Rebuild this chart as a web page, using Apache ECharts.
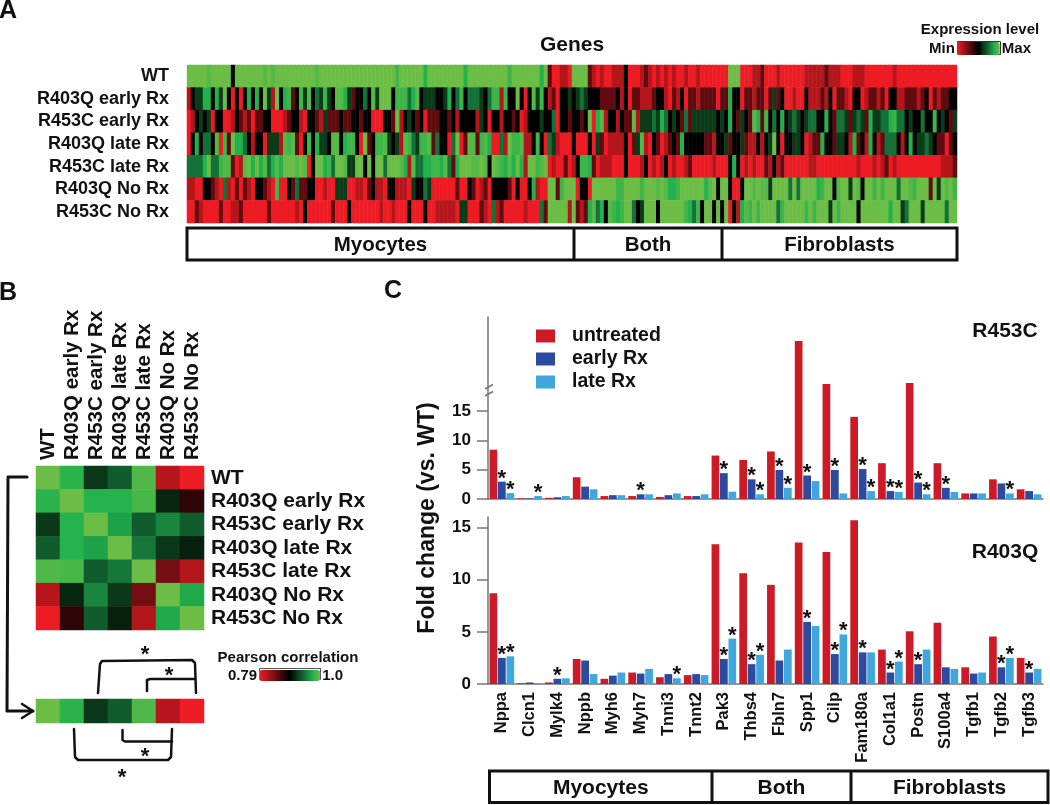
<!DOCTYPE html>
<html><head><meta charset="utf-8">
<script src="https://cdn.jsdelivr.net/npm/echarts@6/dist/echarts.min.js"></script>
<style>html,body{margin:0;padding:0;background:#fff}#c{width:1050px;height:805px}</style>
</head><body><div id="c"></div>
<script>
// ---------- Panel A: expression level per gene, one digit per gene, 0 = min, 9 = max
const conditions = ['WT','R403Q early Rx','R453C early Rx','R403Q late Rx','R453C late Rx','R403Q No Rx','R453C No Rx'];
const exprWT = '999998999993 999999989899 999999998999 999999999999 999979999996 999999999699 999999997999 999969200110 999921010011 130001210101 010010010000 000999000112 000100000011 111211100011 100000001000 000000000000';
const exprR403QEarly = '134466364930 303636394193 672374835474 388642335384 999377756834 443346357355 543577173393 038473120334 345433322223 130221112331 021302212222 022633022122 024230010031 112130221033 012212033112 221230212233';
const exprR453CEarly = '013434033001 321202233000 123310332142 223223323300 033291343230 222332313333 143033133230 133343350332 332390681331 322814445465 343252444444 343632432862 735363454345 533632554245 426445567553 433533734324';
const exprR403QLate = '036355380729 665313304441 878203736443 883677309237 784341875477 825330590288 278600519778 113730541000 300030420111 130248103201 232633333221 334233421131 349303344301 226332443162 316312555313 634454322023';
const exprR453CLate = '555569557882 018969685686 999898039967 599844993939 959998618556 677685269998 898398768696 199789010020 137762011100 030001301013 010012000001 000363010100 213120000001 100000000001 000101201000 000000001112';
const exprR403QNone = '110033210510 202103321070 032522330010 044400110231 103311104335 400000020032 012033332030 036100992799 903309999997 799997999898 667999999689 399300399898 849999595999 967993899498 399797999599 879992949897';
const exprR453CNone = '002100002001 120000002000 000103000000 200030000000 100100030003 001111104400 021051200000 100052999991 921268563876 799534999399 999976573993 939031687979 999579999979 799949799993 999999969945 999499999599';
const exprRows = [exprWT, exprR403QEarly, exprR453CEarly, exprR403QLate, exprR453CLate, exprR403QNone, exprR453CNone];
const exprLevelValues = [0, 0.125, 0.3, 0.5, 0.625, 0.75, 0.875, 0.92, 0.96, 1];
const scaleColors = ['#ed1c24','#b5161b','#770e12','#3b070a','#000000','#0b3b19','#147238','#22b14c','#6cbd45'];

// ---------- Panel B: Pearson correlation
const corrWT =        [1.0, .977, .92, .937, .99, .816, .79];
const corrR403QEarly =[.977, 1.0, .975, .975, .987, .912, .874];
const corrR453CEarly =[.92, .975, 1.0, .968, .937, .956, .937];
const corrR403QLate = [.937, .975, .968, 1.0, .95, .92, .91];
const corrR453CLate = [.99, .987, .937, .95, 1.0, .844, .817];
const corrR403QNone = [.816, .912, .956, .92, .844, 1.0, .97];
const corrR453CNone = [.79, .874, .937, .91, .817, .97, 1.0];
const corrRows = [corrWT, corrR403QEarly, corrR453CEarly, corrR403QLate, corrR453CLate, corrR403QNone, corrR453CNone];

// ---------- Panel C: fold change
const genes = ['Nppa','Clcn1','Mylk4','Nppb','Myh6','Myh7','Tnni3','Tnnt2','Pak3','Thbs4','Fbln7','Spp1','Cilp','Fam180a','Col1a1','Postn','S100a4','Tgfb1','Tgfb2','Tgfb3'];
const r453Untreated = [8.4,.1,.2,3.7,.5,.5,.35,.5,7.4,6.65,8.1,38.9,31.6,14,6.1,31.75,6.1,.95,3.35,1.65];
const r453Early =     [2.95,.1,.3,2.1,.65,.8,.65,.5,4.4,3.35,4.95,4,4.95,5.1,1.35,2.8,1.9,.95,2.65,1.35];
const r453Late =      [1,.5,.5,1.65,.65,.8,.95,.8,1.25,.8,1.9,3.05,.95,1.35,1.2,.8,1.2,.95,.95,.8];
const r453EarlySig =  [1,0,0,0,0,1,0,0,1,1,1,1,1,1,1,1,1,0,0,0];
const r453LateSig =   [1,1,0,0,0,0,0,0,0,1,1,0,0,1,1,1,0,0,1,0];
const r403Untreated = [8.7,.07,.15,2.4,.5,1.1,.65,.85,13.4,10.6,9.5,13.55,12.65,15.7,3.3,5.05,5.87,1.6,4.55,2.5];
const r403Early =     [2.5,.15,.5,2.25,.8,1,.95,.95,2.4,1.9,2.25,5.95,2.87,3.03,1.1,1.9,1.6,1,1.6,1.1];
const r403Late =      [2.65,.1,.55,.95,1.1,1.45,.55,.85,4.35,2.8,3.3,5.55,4.75,3.03,2.15,3.3,1.45,1.1,2.5,1.45];
const r403EarlySig =  [1,0,1,0,0,0,0,0,1,1,0,1,1,1,1,1,0,0,1,1];
const r403LateSig =   [1,0,0,0,0,0,1,0,1,1,0,0,1,0,1,0,0,0,1,0];
const yTicks = [0,5,10,15];
const treatments = ['untreated','early Rx','late Rx'];
const treatmentColors = ['#cc1b27','#2c4a9f','#3fa7de'];

// ---------- build
const FF = '"Liberation Sans", Arial, sans-serif';
const AX = '#777';
const exprCols = exprWT.replace(/ /g,'').length;
const exprData = [];
exprRows.forEach((s, r) => s.replace(/ /g,'').split('').forEach((d, c) => exprData.push([c, r, exprLevelValues[+d]])));
const corrData = [];
corrRows.forEach((row, r) => row.forEach((v, c) => corrData.push([c, r, v])));
const stripData = corrWT.map((v, c) => [c, 0, v]);

const hiddenAxis = {axisLine:{show:false},axisTick:{show:false},axisLabel:{show:false},splitLine:{show:false}};
function text(x, y, t, size, o) {
  return Object.assign({type:'text', x, y, silent:true,
    style:Object.assign({text:t, font:'bold '+size+'px '+FF, fill:'#111', align:'center', verticalAlign:'middle'}, o||{})});
}
function pl(points, w) {
  return {type:'polyline', silent:true, shape:{points}, style:{stroke:'#111', lineWidth:w||2.5, fill:'none', lineJoin:'round', lineCap:'round'}};
}
function boxes(x0, y0, y1, xs, labels, size) {
  const out = [{type:'rect', silent:true, shape:{x:x0, y:y0, width:xs[xs.length-1]-x0, height:y1-y0}, style:{fill:'#fff', stroke:'#111', lineWidth:3}}];
  xs.slice(0,-1).forEach(x => out.push({type:'line', silent:true, shape:{x1:x,y1:y0,x2:x,y2:y1}, style:{stroke:'#111', lineWidth:3}}));
  let prev = x0;
  xs.forEach((x,i) => { out.push(text((prev+x)/2, (y0+y1)/2+1, labels[i], size)); prev = x; });
  return out;
}
function barSeries(idx, name, vals, sig, color) {
  return {type:'bar', name, xAxisIndex:idx, yAxisIndex:idx, barWidth:7.7, barGap:'10%', itemStyle:{color},
    label:{show:false, position:'top', distance:-8, formatter:'*', fontFamily:FF, fontWeight:'bold', fontSize:22, color:'#111'},
    data: vals.map((v,i) => ({value:v, label:{show:!!(sig && sig[i])}}))};
}

const option = {
  animation:false, backgroundColor:'#fff', textStyle:{fontFamily:FF},
  grid:[
    {left:187, top:65, width:770, height:158},
    {left:36, top:466, width:168, height:164},
    {left:36, top:699, width:168, height:24},
    {left:488, top:317, width:555, height:182},
    {left:488, top:517, width:555, height:167}
  ],
  xAxis:[
    Object.assign({gridIndex:0, type:'category', position:'top', data:Array.from({length:exprCols},(_,i)=>i), name:'Genes', nameLocation:'middle', nameGap:9, nameTextStyle:{fontFamily:FF, fontWeight:'bold', fontSize:21, color:'#111'}}, hiddenAxis),
    {gridIndex:1, type:'category', position:'top', data:conditions, axisLine:{show:false}, axisTick:{show:false}, axisLabel:{interval:0, rotate:-90, margin:6, fontFamily:FF, fontWeight:'bold', fontSize:20.5, color:'#111'}},
    Object.assign({gridIndex:2, type:'category', data:conditions}, hiddenAxis),
    {gridIndex:3, type:'category', data:genes, axisLine:{lineStyle:{color:AX, width:1.5}}, axisTick:{length:2, lineStyle:{color:AX}}, axisLabel:{show:false}},
    {gridIndex:4, type:'category', data:genes, axisLine:{lineStyle:{color:AX, width:1.5}}, axisTick:{length:13, lineStyle:{color:AX, width:1.5}}, axisLabel:{interval:0, rotate:90, margin:8, fontFamily:FF, fontWeight:'bold', fontSize:16.5, color:'#111'}}
  ],
  yAxis:[
    {gridIndex:0, type:'category', inverse:true, data:conditions, axisLine:{show:false}, axisTick:{show:false}, axisLabel:{interval:0, margin:18, fontFamily:FF, fontWeight:'bold', fontSize:18, color:'#111'}},
    {gridIndex:1, type:'category', inverse:true, position:'right', data:conditions, axisLine:{show:false}, axisTick:{show:false}, axisLabel:{interval:0, margin:7, fontFamily:FF, fontWeight:'bold', fontSize:21, color:'#111'}},
    Object.assign({gridIndex:2, type:'category', data:['WT']}, hiddenAxis),
    {gridIndex:3, type:'value', min:0, max:43, breaks:[{start:18, end:30, gap:0}], breakArea:{show:false}, splitLine:{show:false},
      axisLine:{show:true, lineStyle:{color:AX, width:1.5}}, axisTick:{show:true, length:11, customValues:yTicks, lineStyle:{color:AX, width:1.5}},
      axisLabel:{customValues:yTicks, margin:17, fontFamily:FF, fontWeight:'bold', fontSize:17, color:'#111'}},
    {gridIndex:4, type:'value', min:0, max:16, interval:5, splitLine:{show:false},
      axisLine:{show:true, lineStyle:{color:AX, width:1.5}}, axisTick:{show:true, length:11, lineStyle:{color:AX, width:1.5}},
      axisLabel:{margin:17, fontFamily:FF, fontWeight:'bold', fontSize:17, color:'#111'}}
  ],
  visualMap:[
    {type:'continuous', seriesIndex:0, min:0, max:1, left:914, top:26, orient:'horizontal', itemWidth:13, itemHeight:43, text:['Max','Min'], textGap:2, calculable:false, inRange:{color:scaleColors}, textStyle:{fontFamily:FF, fontWeight:'bold', fontSize:15, color:'#111'}},
    {type:'continuous', seriesIndex:[1,2], min:.79, max:1, left:213, top:653, orient:'horizontal', itemWidth:11, itemHeight:61, text:['1.0','0.79'], textGap:2, calculable:false, inRange:{color:scaleColors}, textStyle:{fontFamily:FF, fontWeight:'bold', fontSize:15, color:'#111'}}
  ],
  legend:{left:531, top:321, orient:'vertical', icon:'rect', itemWidth:19, itemHeight:13, itemGap:3, data:treatments, selectedMode:false,
    textStyle:{fontFamily:FF, fontWeight:'bold', fontSize:19.5, color:'#111', padding:[0,0,0,12]}},
  series:[
    {type:'heatmap', xAxisIndex:0, yAxisIndex:0, data:exprData, itemStyle:{borderWidth:0}},
    {type:'heatmap', xAxisIndex:1, yAxisIndex:1, data:corrData},
    {type:'heatmap', xAxisIndex:2, yAxisIndex:2, data:stripData},
    barSeries(3, treatments[0], r453Untreated, null, treatmentColors[0]),
    barSeries(3, treatments[1], r453Early, r453EarlySig, treatmentColors[1]),
    barSeries(3, treatments[2], r453Late, r453LateSig, treatmentColors[2]),
    barSeries(4, treatments[0], r403Untreated, null, treatmentColors[0]),
    barSeries(4, treatments[1], r403Early, r403EarlySig, treatmentColors[1]),
    barSeries(4, treatments[2], r403Late, r403LateSig, treatmentColors[2])
  ],
  graphic:{elements:[
    text(8, 11, 'A', 25),
    text(8, 293, 'B', 25),
    text(393, 291, 'C', 25),
    text(980, 30, 'Expression level', 15),
    {type:'rect', silent:true, shape:{x:957.5,y:41.5,width:43,height:13}, style:{fill:'none', stroke:'#333', lineWidth:1}},
    ...boxes(187, 228, 260, [574,722,957], ['Myocytes','Both','Fibroblasts'], 20.5),
    ...boxes(489.5, 771, 802.5, [712,851,1048], ['Myocytes','Both','Fibroblasts'], 21),
    text(288, 658, 'Pearson correlation', 15),
    {type:'rect', silent:true, shape:{x:259.5,y:668.5,width:61,height:11}, style:{fill:'none', stroke:'#555', lineWidth:1}},
    // arrow from the WT row to the strip
    pl([[27,477],[8,477],[7,711],[33,711]],3),
    pl([[22,704],[33,711],[22,718]],2.5),
    // brackets
    pl([[98,693],[100,664],[102,661],[192,660],[195,663],[196,693]]),
    pl([[147,691],[147,680],[150,679],[195,679]]),
    pl([[74,729],[75,757],[78,760],[168,760],[171,757],[172,729]]),
    pl([[122.5,730],[122.5,740],[125,741.5],[172,741.5]]),
    text(145,655,'*',22), text(169,676,'*',22), text(145,757,'*',22), text(122,778,'*',22),
    // fold-change axis title and panel names
    Object.assign(text(428, 518, 'Fold change (vs. WT)', 23), {rotation:Math.PI/2}),
    text(1005, 331, 'R453C', 21),
    text(1005, 552, 'R403Q', 21),
    // axis break marks
    {type:'rect', silent:true, shape:{x:486,y:388,width:4,height:5}, style:{fill:'#fff'}},
    {type:'line', silent:true, shape:{x1:485,y1:389,x2:493,y2:384.5}, style:{stroke:AX, lineWidth:1.5}},
    {type:'line', silent:true, shape:{x1:485,y1:396,x2:493,y2:391.5}, style:{stroke:AX, lineWidth:1.5}}
  ]}
};
echarts.init(document.getElementById('c'), null, {renderer:'canvas'}).setOption(option);
</script></body></html>
